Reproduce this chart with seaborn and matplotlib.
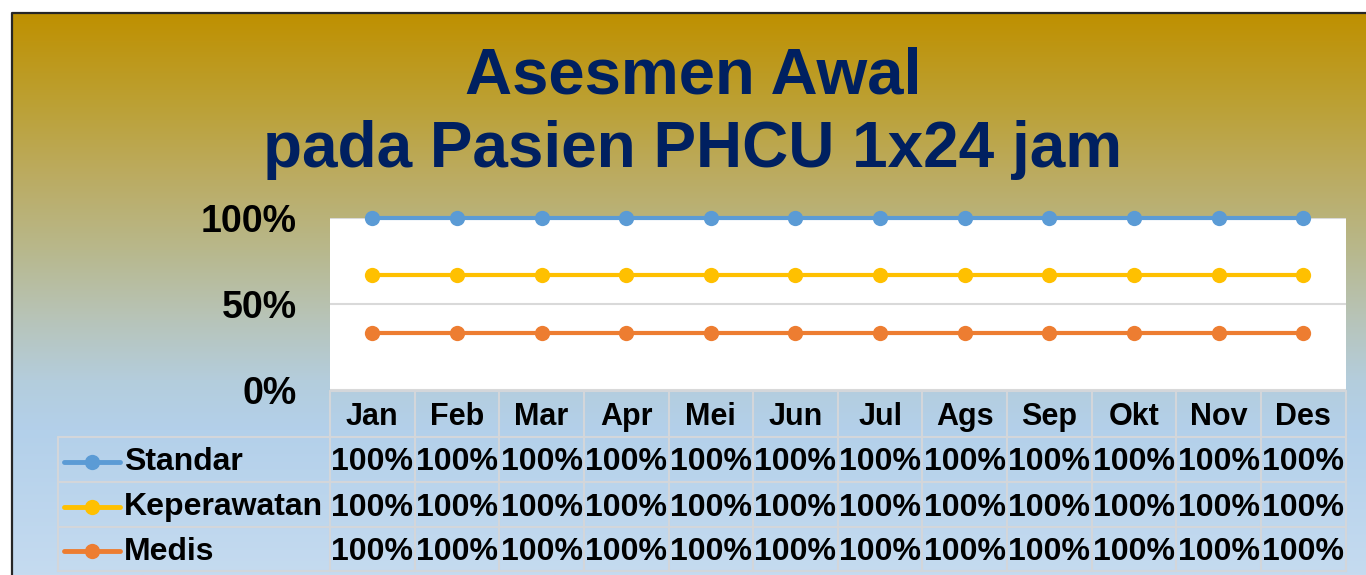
import numpy as np
import pandas as pd
import matplotlib.pyplot as plt
import seaborn as sns

# data
months = ["Jan", "Feb", "Mar", "Apr", "Mei", "Jun", "Jul", "Ags", "Sep", "Okt", "Nov", "Des"]
standar = [100, 100, 100, 100, 100, 100, 100, 100, 100, 100, 100, 100]
keperawatan = [100, 100, 100, 100, 100, 100, 100, 100, 100, 100, 100, 100]
medis = [100, 100, 100, 100, 100, 100, 100, 100, 100, 100, 100, 100]

series_names = ["Standar", "Keperawatan", "Medis"]
colors = {"Standar": "#5B9BD5", "Keperawatan": "#FFC000", "Medis": "#ED7D31"}

sns.set_theme(style="white")
plt.rcParams["font.family"] = ["Liberation Sans", "DejaVu Sans"]
plt.rcParams["font.weight"] = "bold"
plt.rcParams["text.color"] = "black"

W, H = 1366, 575
fig = plt.figure(figsize=(W / 100, H / 100), dpi=100)

# background gradient (pixel coordinates)
bg = fig.add_axes([0, 0, 1, 1])
bg.set_xlim(0, W)
bg.set_ylim(H, 0)
bg.axis("off")
stops = [(13, (191, 144, 0)), (100, (188, 160, 50)), (180, (187, 172, 100)),
         (250, (184, 184, 140)), (320, (183, 196, 185)), (380, (180, 205, 220)),
         (430, (179, 208, 234)), (575, (197, 219, 240))]
ys = np.arange(13, H + 1)
sy = [s[0] for s in stops]
grad = np.stack([np.interp(ys, sy, [s[1][c] for s in stops]) for c in range(3)], axis=-1) / 255
grad = np.repeat(grad[:, None, :], 2, axis=1)
bg.imshow(grad, extent=(12, W, H, 13), aspect="auto", zorder=0)
bg.plot([12, 12, W], [H, 13, 13], color="#262626", lw=1.6, zorder=1)

# title
fig.text(693 / W, 1 - 94 / H, "Asesmen Awal", ha="center", va="baseline",
         fontsize=47, fontweight="bold", color="#002060")
fig.text(693 / W, 1 - 167 / H, "pada Pasien PHCU 1x24 jam", ha="center", va="baseline",
         fontsize=46, fontweight="bold", color="#002060")

# 100% stacked line chart
px0, px1 = 330, 1345.5
top, bottom = 218, 390
vals = pd.DataFrame({"Medis": medis, "Keperawatan": keperawatan, "Standar": standar}, index=months)
share = vals.cumsum(axis=1).div(vals.sum(axis=1), axis=0) * 100
long = share.reset_index(names="Bulan").melt(id_vars="Bulan", var_name="Seri", value_name="Persen")

ax = fig.add_axes([px0 / W, 1 - bottom / H, (px1 - px0) / W, (bottom - top) / H])
ax.set_facecolor("white")
sns.lineplot(data=long, x="Bulan", y="Persen", hue="Seri", palette=colors,
             hue_order=series_names, marker="o", markersize=11, markeredgewidth=0,
             linewidth=3, legend=False, sort=False, ax=ax)
for ln in ax.lines:
    ln.set_clip_on(False)
ax.set_xlim(-0.5, len(months) - 0.5)
ax.set_ylim(0, 100)
ax.set_yticks([0, 50, 100])
ax.set_yticklabels(["0%", "50%", "100%"])
ax.tick_params(axis="y", length=0, pad=24, labelsize=27, labelcolor="black")
ax.set_xticks([])
ax.set_xlabel("")
ax.set_ylabel("")
ax.yaxis.grid(True, color="#D9D9D9", lw=1.5)
ax.set_axisbelow(True)
for s in ax.spines.values():
    s.set_visible(False)

# data table
gc = "#D3D6DA"
n = len(months)
cw = (px1 - px0) / n
edges_x = [px0 + i * cw for i in range(n + 1)]
hdr_top = 391
row_edges = [437, 482, 527, 571]
lx0 = 58
bg.plot([px0, px1], [hdr_top, hdr_top], color=gc, lw=1.5, zorder=2)
for y in row_edges:
    bg.plot([lx0, px1], [y, y], color=gc, lw=1.5, zorder=2)
for x in edges_x:
    bg.plot([x, x], [hdr_top, row_edges[-1]], color=gc, lw=1.5, zorder=2)
bg.plot([lx0, lx0], [row_edges[0], row_edges[-1]], color=gc, lw=1.5, zorder=2)

for i, m in enumerate(months):
    bg.text(px0 + (i + 0.5) * cw, (hdr_top + row_edges[0]) / 2 + 3, m, ha="center", va="center",
            fontsize=22, fontweight="bold", color="black", zorder=3)

data_rows = {"Standar": standar, "Keperawatan": keperawatan, "Medis": medis}
for r, name in enumerate(series_names):
    yc = (row_edges[r] + row_edges[r + 1]) / 2 + 2
    bg.plot([64, 120], [yc, yc], color=colors[name], lw=3.5, solid_capstyle="round", zorder=3)
    bg.plot([92], [yc], marker="o", markersize=11, markeredgewidth=0, color=colors[name], zorder=4)
    bg.text(124, yc + 1, name, ha="left", va="center", fontsize=23, fontweight="bold",
            color="black", zorder=3)
    for i, v in enumerate(data_rows[name]):
        bg.text(px0 + (i + 0.5) * cw, yc + 1, f"{v}%", ha="center", va="center",
                fontsize=23, fontweight="bold", color="black", zorder=3)

fig.savefig("out.png", dpi=100)
